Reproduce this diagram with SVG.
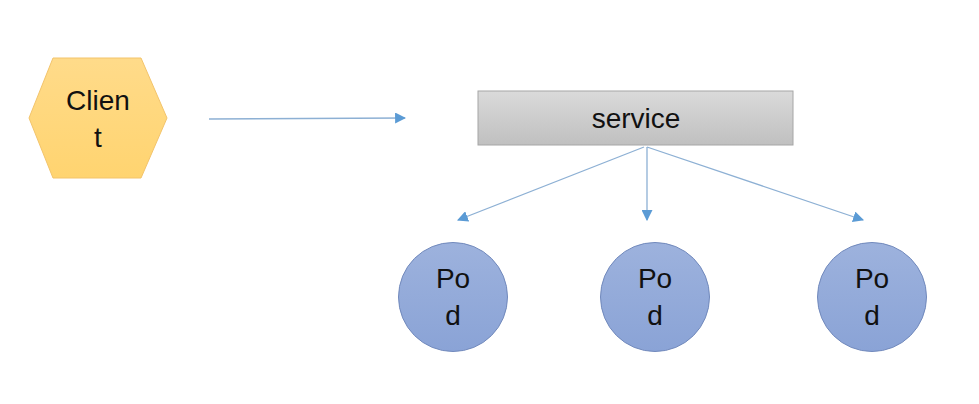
<svg xmlns="http://www.w3.org/2000/svg" width="979" height="404" viewBox="0 0 979 404">
<defs>
<linearGradient id="gHex" x1="0" y1="0" x2="0" y2="1"><stop offset="0" stop-color="#FFDB8A"/><stop offset="1" stop-color="#FFD470"/></linearGradient>
<linearGradient id="gSvc" x1="0" y1="0" x2="0" y2="1"><stop offset="0" stop-color="#DADADA"/><stop offset="1" stop-color="#C0C0C0"/></linearGradient>
<linearGradient id="gPod" x1="0" y1="0" x2="0" y2="1"><stop offset="0" stop-color="#9DB2DD"/><stop offset="1" stop-color="#8AA3D6"/></linearGradient>
<marker id="arr" viewBox="0 0 10 10" refX="9" refY="5" markerWidth="11" markerHeight="11" markerUnits="userSpaceOnUse" orient="auto"><path d="M0,0 L10,5 L0,10 z" fill="#5B9BD5"/></marker>
</defs>
<style>
text{font-family:"Liberation Sans",Arial,sans-serif;font-size:28px;fill:#111;text-anchor:middle}
.pod{fill:url(#gPod);stroke:#7189BC;stroke-width:1}
.edge{stroke:#8DB0D4;stroke-width:1.3;fill:none;marker-end:url(#arr)}
</style>
<rect width="979" height="404" fill="#fff"/>
<g id="client">
<polygon points="53,58 141,58 167,118 141,178 53,178 29,118" fill="url(#gHex)" stroke="#F3C46B" stroke-width="1"/>
<text x="98" y="110">Clien</text>
<text x="98" y="147">t</text>
</g>
<g id="service">
<rect x="478" y="91" width="315" height="54" fill="url(#gSvc)" stroke="#A6A6A6" stroke-width="1"/>
<text x="636" y="128">service</text>
</g>
<g id="pod1">
<circle class="pod" cx="453" cy="297" r="54.5"/>
<text x="453" y="288">Po</text>
<text x="453" y="325">d</text>
</g>
<g id="pod2">
<circle class="pod" cx="655" cy="297" r="54.5"/>
<text x="655" y="288">Po</text>
<text x="655" y="325">d</text>
</g>
<g id="pod3">
<circle class="pod" cx="872" cy="297" r="54.5"/>
<text x="872" y="288">Po</text>
<text x="872" y="325">d</text>
</g>
<g id="connectors">
<line class="edge" x1="209" y1="119" x2="405" y2="118"/>
<line class="edge" x1="644" y1="147" x2="458" y2="220"/>
<line class="edge" x1="647" y1="147" x2="647" y2="220"/>
<line class="edge" x1="647" y1="147" x2="863" y2="220"/>
</g>
</svg>
